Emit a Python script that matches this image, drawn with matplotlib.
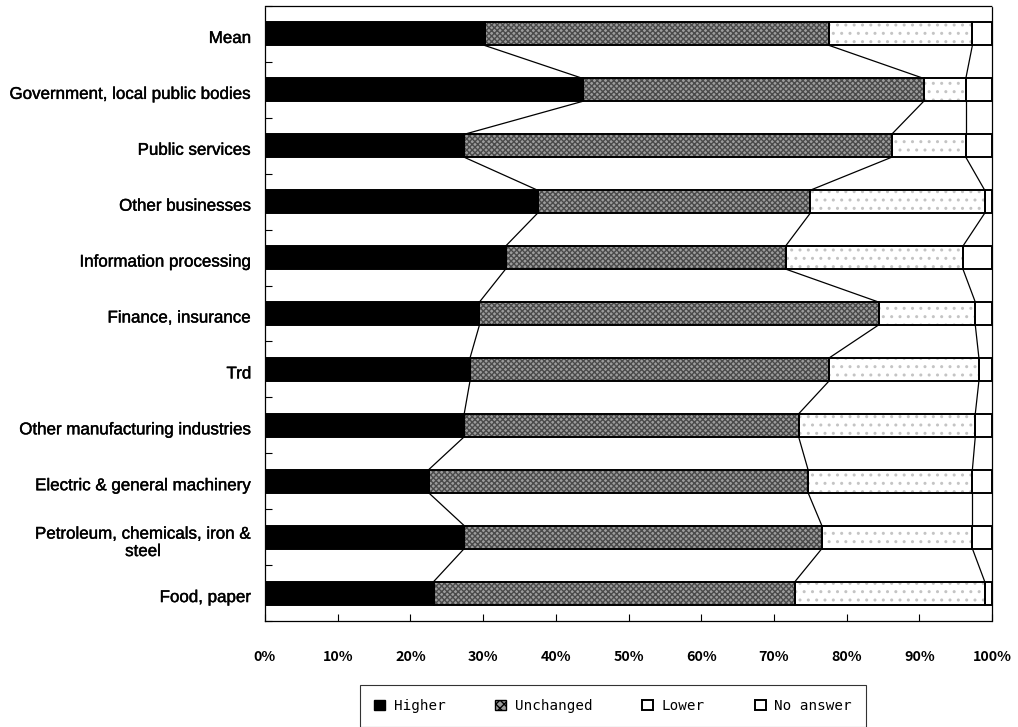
import matplotlib
matplotlib.use("Agg")
import matplotlib.pyplot as plt
import matplotlib.transforms as mtransforms
import matplotlib.patheffects as pe
import numpy as np
from matplotlib.patches import Patch

categories = [
    "Mean",
    "Government, local public bodies",
    "Public services",
    "Other businesses",
    "Information processing",
    "Finance, insurance",
    "Trd",
    "Other manufacturing industries",
    "Electric & general machinery",
    "Petroleum, chemicals, iron &\nsteel",
    "Food, paper",
]
higher    = [30.2, 43.7, 27.4, 37.5, 33.1, 29.5, 28.2, 27.4, 22.5, 27.4, 23.2]
unchanged = [47.4, 46.9, 58.8, 37.5, 38.5, 54.9, 49.4, 46.0, 52.2, 49.2, 49.7]
lower     = [19.7,  5.8, 10.2, 24.0, 24.4, 13.3, 20.6, 24.3, 22.6, 20.7, 26.1]
no_answer = [ 2.7,  3.6,  3.6,  1.0,  4.0,  2.3,  1.8,  2.3,  2.7,  2.7,  1.0]
series_names = ["Higher", "Unchanged", "Lower", "No answer"]
x_ticks = [0, 10, 20, 30, 40, 50, 60, 70, 80, 90, 100]

fig = plt.figure(figsize=(10.18, 7.27), dpi=100)
ax = fig.add_axes([265 / 1018, 1 - 621 / 727, (992 - 265) / 1018, (621 - 6) / 727])

y = np.arange(len(categories))
bar_h = 0.41
series = [np.array(higher), np.array(unchanged), np.array(lower), np.array(no_answer)]
faces = ["black", "#9c9c9c", "white", "white"]
hatches = [None, "xxxxxx", "..", None]
hatch_cols = [None, "#4a4a4a", "#c4c4c4", None]

left = np.zeros(len(categories))
bounds = []
for vals, fc, ht, hc in zip(series, faces, hatches, hatch_cols):
    ax.barh(y, vals, left=left, height=bar_h, color=fc, edgecolor="none", zorder=2)
    if ht:
        ax.barh(y, vals, left=left, height=bar_h, color="none", edgecolor=hc,
                hatch=ht, linewidth=0, zorder=3)
    ax.barh(y, vals, left=left, height=bar_h, color="none", edgecolor="black",
            linewidth=1.4, zorder=4)
    left = left + vals
    bounds.append(left.copy())

# series lines joining segment ends of neighbouring bars
for b in bounds[:3]:
    for i in range(len(categories) - 1):
        ax.plot([b[i], b[i + 1]], [y[i] + bar_h / 2, y[i + 1] - bar_h / 2],
                color="black", linewidth=0.9, zorder=1)

ax.set_xlim(0, 100)
ax.set_ylim(len(categories) - 0.5, -0.5)

ax.set_xticks(x_ticks)
ax.set_xticklabels([f"{t}%" for t in x_ticks], fontfamily="Noto Sans CJK JP",
                   fontweight="bold", fontsize=10.3)
ax.tick_params(axis="x", direction="in", length=5, width=0.8, pad=21)

ax.set_yticks(y)
ax.set_yticklabels(categories, fontfamily="Liberation Sans", fontsize=12.2,
                   multialignment="center")
ax.set_yticks(np.arange(len(categories) + 1) - 0.5, minor=True)
ax.tick_params(axis="y", which="major", length=0, pad=10)
ax.tick_params(axis="y", which="minor", direction="in", length=5, width=0.8)
shift = mtransforms.ScaledTranslation(0, -3 / 100, fig.dpi_scale_trans)
for lab in ax.get_yticklabels():
    lab.set_transform(lab.get_transform() + shift)
    lab.set_path_effects([pe.withStroke(linewidth=0.3, foreground="black")])

for sp in ax.spines.values():
    sp.set_linestyle((0, (2, 1)))
    sp.set_linewidth(0.9)

handles = [
    Patch(facecolor="black", edgecolor="black"),
    Patch(facecolor="#9c9c9c", edgecolor="black", hatch="xxxx"),
    Patch(facecolor="white", edgecolor="black", linewidth=1.4),
    Patch(facecolor="white", edgecolor="black", linewidth=1.4),
]
leg = fig.legend(handles, series_names, loc="center", bbox_to_anchor=(613 / 1018, 1 - 706 / 727),
                 ncol=4, frameon=True, fancybox=False, edgecolor="black",
                 prop={"family": "DejaVu Sans Mono", "size": 10.3},
                 handlelength=0.75, handleheight=0.75, handletextpad=0.6,
                 columnspacing=3.5, borderpad=1.0, borderaxespad=0)
leg.get_frame().set_linewidth(0.8)

fig.savefig("out.png", dpi=100)
